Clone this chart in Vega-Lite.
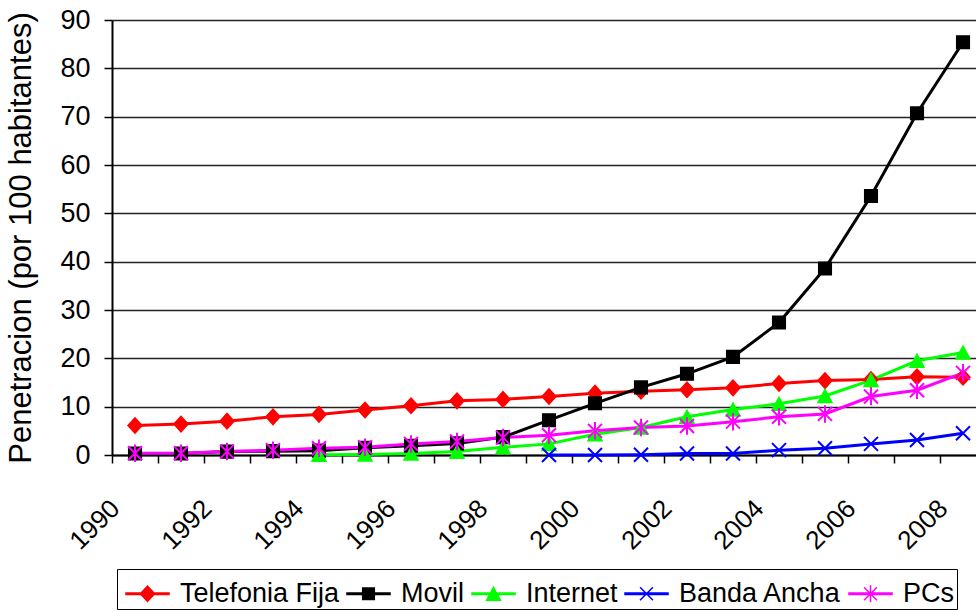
{
  "$schema": "https://vega.github.io/schema/vega-lite/v6.json",
  "width": 864,
  "height": 435,
  "autosize": {"type": "none"},
  "padding": {"left": 112, "top": 20, "right": 0, "bottom": 155},
  "background": "white",
  "config": {
    "view": {"stroke": null},
    "font": "Liberation Sans"
  },
  "data": {
    "values": [
      {"year": 1990, "series": "Telefonia Fija", "value": 6.1},
      {"year": 1991, "series": "Telefonia Fija", "value": 6.4},
      {"year": 1992, "series": "Telefonia Fija", "value": 7.0},
      {"year": 1993, "series": "Telefonia Fija", "value": 7.9},
      {"year": 1994, "series": "Telefonia Fija", "value": 8.4},
      {"year": 1995, "series": "Telefonia Fija", "value": 9.3},
      {"year": 1996, "series": "Telefonia Fija", "value": 10.2},
      {"year": 1997, "series": "Telefonia Fija", "value": 11.2},
      {"year": 1998, "series": "Telefonia Fija", "value": 11.5},
      {"year": 1999, "series": "Telefonia Fija", "value": 12.1},
      {"year": 2000, "series": "Telefonia Fija", "value": 12.8},
      {"year": 2001, "series": "Telefonia Fija", "value": 13.2},
      {"year": 2002, "series": "Telefonia Fija", "value": 13.5},
      {"year": 2003, "series": "Telefonia Fija", "value": 13.9},
      {"year": 2004, "series": "Telefonia Fija", "value": 14.8},
      {"year": 2005, "series": "Telefonia Fija", "value": 15.4},
      {"year": 2006, "series": "Telefonia Fija", "value": 15.6},
      {"year": 2007, "series": "Telefonia Fija", "value": 16.2},
      {"year": 2008, "series": "Telefonia Fija", "value": 16.1},
      {"year": 1990, "series": "Movil", "value": 0.3},
      {"year": 1991, "series": "Movil", "value": 0.3},
      {"year": 1992, "series": "Movil", "value": 0.7},
      {"year": 1993, "series": "Movil", "value": 0.8},
      {"year": 1994, "series": "Movil", "value": 0.9},
      {"year": 1995, "series": "Movil", "value": 1.5},
      {"year": 1996, "series": "Movil", "value": 1.9},
      {"year": 1997, "series": "Movil", "value": 2.4},
      {"year": 1998, "series": "Movil", "value": 3.7},
      {"year": 1999, "series": "Movil", "value": 7.2},
      {"year": 2000, "series": "Movil", "value": 10.7},
      {"year": 2001, "series": "Movil", "value": 14.0},
      {"year": 2002, "series": "Movil", "value": 16.8},
      {"year": 2003, "series": "Movil", "value": 20.3},
      {"year": 2004, "series": "Movil", "value": 27.4},
      {"year": 2005, "series": "Movil", "value": 38.6},
      {"year": 2006, "series": "Movil", "value": 53.6},
      {"year": 2007, "series": "Movil", "value": 70.7},
      {"year": 2008, "series": "Movil", "value": 85.4},
      {"year": 1994, "series": "Internet", "value": 0.05},
      {"year": 1995, "series": "Internet", "value": 0.1},
      {"year": 1996, "series": "Internet", "value": 0.3},
      {"year": 1997, "series": "Internet", "value": 0.7},
      {"year": 1998, "series": "Internet", "value": 1.6},
      {"year": 1999, "series": "Internet", "value": 2.3},
      {"year": 2000, "series": "Internet", "value": 4.3},
      {"year": 2001, "series": "Internet", "value": 5.7},
      {"year": 2002, "series": "Internet", "value": 7.9},
      {"year": 2003, "series": "Internet", "value": 9.4},
      {"year": 2004, "series": "Internet", "value": 10.6},
      {"year": 2005, "series": "Internet", "value": 12.2},
      {"year": 2006, "series": "Internet", "value": 15.5},
      {"year": 2007, "series": "Internet", "value": 19.5},
      {"year": 2008, "series": "Internet", "value": 21.2},
      {"year": 1999, "series": "Banda Ancha", "value": 0.0},
      {"year": 2000, "series": "Banda Ancha", "value": 0.0},
      {"year": 2001, "series": "Banda Ancha", "value": 0.05},
      {"year": 2002, "series": "Banda Ancha", "value": 0.3},
      {"year": 2003, "series": "Banda Ancha", "value": 0.3},
      {"year": 2004, "series": "Banda Ancha", "value": 1.0},
      {"year": 2005, "series": "Banda Ancha", "value": 1.4},
      {"year": 2006, "series": "Banda Ancha", "value": 2.3},
      {"year": 2007, "series": "Banda Ancha", "value": 3.1},
      {"year": 2008, "series": "Banda Ancha", "value": 4.5},
      {"year": 1990, "series": "PCs", "value": 0.35},
      {"year": 1991, "series": "PCs", "value": 0.35},
      {"year": 1992, "series": "PCs", "value": 0.7},
      {"year": 1993, "series": "PCs", "value": 1.0},
      {"year": 1994, "series": "PCs", "value": 1.4},
      {"year": 1995, "series": "PCs", "value": 1.6},
      {"year": 1996, "series": "PCs", "value": 2.3},
      {"year": 1997, "series": "PCs", "value": 2.8},
      {"year": 1998, "series": "PCs", "value": 3.6},
      {"year": 1999, "series": "PCs", "value": 4.1},
      {"year": 2000, "series": "PCs", "value": 5.0},
      {"year": 2001, "series": "PCs", "value": 5.7},
      {"year": 2002, "series": "PCs", "value": 6.0},
      {"year": 2003, "series": "PCs", "value": 6.9},
      {"year": 2004, "series": "PCs", "value": 7.9},
      {"year": 2005, "series": "PCs", "value": 8.5},
      {"year": 2006, "series": "PCs", "value": 12.1},
      {"year": 2007, "series": "PCs", "value": 13.4},
      {"year": 2008, "series": "PCs", "value": 17.0}
    ]
  },
  "encoding": {
    "x": {
      "field": "year",
      "type": "ordinal",
      "bandPosition": 0.5,
      "scale": {"type": "band", "range": [0, 874], "paddingInner": 0, "paddingOuter": 0},
      "axis": {
        "title": null,
        "grid": false,
        "domainColor": "black",
        "domainWidth": 2,
        "tickColor": "black",
        "tickWidth": 1.5,
        "tickSize": 8,
        "tickBand": "extent",
        "labelAngle": -45,
        "labelAlign": "right",
        "labelBaseline": "middle",
        "labelFontSize": 26,
        "labelColor": "black",
        "labelPadding": 41,
        "labelOffset": -20,
        "labelOverlap": false,
        "labelExpr": "datum.value % 2 == 0 ? datum.label : ''"
      }
    },
    "y": {
      "field": "value",
      "type": "quantitative",
      "scale": {"domain": [0, 90], "nice": false},
      "axis": {
        "values": [0, 10, 20, 30, 40, 50, 60, 70, 80, 90],
        "title": "Penetracion (por 100 habitantes)",
        "titleFontSize": 31,
        "titleFontWeight": "normal",
        "titleColor": "black",
        "titlePadding": 22,
        "grid": true,
        "gridColor": "#222222",
        "gridWidth": 1.3,
        "domainColor": "black",
        "domainWidth": 2,
        "tickColor": "black",
        "tickWidth": 1.5,
        "tickSize": 8,
        "labelFontSize": 27,
        "labelColor": "black",
        "labelPadding": 14
      }
    }
  },
  "layer": [
    {
      "mark": {"type": "line", "strokeWidth": 3},
      "encoding": {
        "color": {
          "field": "series",
          "type": "nominal",
          "scale": {
            "domain": ["Telefonia Fija", "Movil", "Internet", "Banda Ancha", "PCs"],
            "range": ["#ff0000", "#000000", "#00ff00", "#0000ff", "#ff00ff"]
          },
          "legend": {
            "orient": "none",
            "legendX": 5,
            "legendY": 549,
            "direction": "horizontal",
            "columns": 5,
            "title": null,
            "labelFontSize": 27,
            "labelColor": "black",
            "labelLimit": 400,
            "labelOffset": 10,
            "columnPadding": -4,
            "padding": 2,
            "strokeColor": "black",
            "symbolSize": 1849,
            "symbolOffset": 6,
            "symbolStrokeWidth": 1.5,
            "encode": {
              "symbols": {
                "update": {
                  "shape": {"signal": "datum.value === 'Telefonia Fija' ? 'M-1,-0.035L1,-0.035L1,0.035L-1,0.035ZM-0.33,0L0,-0.36L0.33,0L0,0.36Z' : datum.value === 'Movil' ? 'M-1,-0.035L1,-0.035L1,0.035L-1,0.035ZM-0.27,-0.27L0.27,-0.27L0.27,0.27L-0.27,0.27Z' : datum.value === 'Internet' ? 'M-1,-0.035L1,-0.035L1,0.035L-1,0.035ZM0,-0.3L0.32,0.3L-0.32,0.3Z' : datum.value === 'Banda Ancha' ? 'M-1,-0.035L1,-0.035L1,0.035L-1,0.035ZM-0.3,-0.3L0.3,0.3M-0.3,0.3L0.3,-0.3' : 'M-1,-0.035L1,-0.035L1,0.035L-1,0.035ZM-0.3,-0.3L0.3,0.3M-0.3,0.3L0.3,-0.3M0,-0.4L0,0.4'"},
                  "fill": {"scale": "color", "field": "value"},
                  "stroke": {"scale": "color", "field": "value"}
                }
              }
            }
          }
        }
      }
    },
    {
      "transform": [{"filter": "datum.series === 'Telefonia Fija'"}],
      "mark": {"type": "point", "shape": "M-1,0L0,-1.1L1,0L0,1.1Z", "size": 196, "filled": true, "fill": "#ff0000", "stroke": "#ff0000", "strokeWidth": 1.5, "opacity": 1}
    },
    {
      "transform": [{"filter": "datum.series === 'Movil'"}],
      "mark": {"type": "point", "shape": "M-0.9,-0.9L0.9,-0.9L0.9,0.9L-0.9,0.9Z", "size": 196, "filled": true, "fill": "#000000", "stroke": "#000000", "strokeWidth": 1.5, "opacity": 1}
    },
    {
      "transform": [{"filter": "datum.series === 'Internet'"}],
      "mark": {"type": "point", "shape": "M0,-0.93L1,0.93L-1,0.93Z", "size": 196, "filled": true, "fill": "#00ff00", "stroke": "#00ff00", "strokeWidth": 1.5, "opacity": 1}
    },
    {
      "transform": [{"filter": "datum.series === 'Banda Ancha'"}],
      "mark": {"type": "point", "shape": "M-1,-1L1,1M-1,1L1,-1", "size": 196, "filled": false, "stroke": "#0000ff", "strokeWidth": 2, "opacity": 1}
    },
    {
      "transform": [{"filter": "datum.series === 'PCs'"}],
      "mark": {"type": "point", "shape": "M-1,-1L1,1M-1,1L1,-1M0,-1.25L0,1.25", "size": 196, "filled": false, "stroke": "#ff00ff", "strokeWidth": 2, "opacity": 1}
    }
  ]
}
